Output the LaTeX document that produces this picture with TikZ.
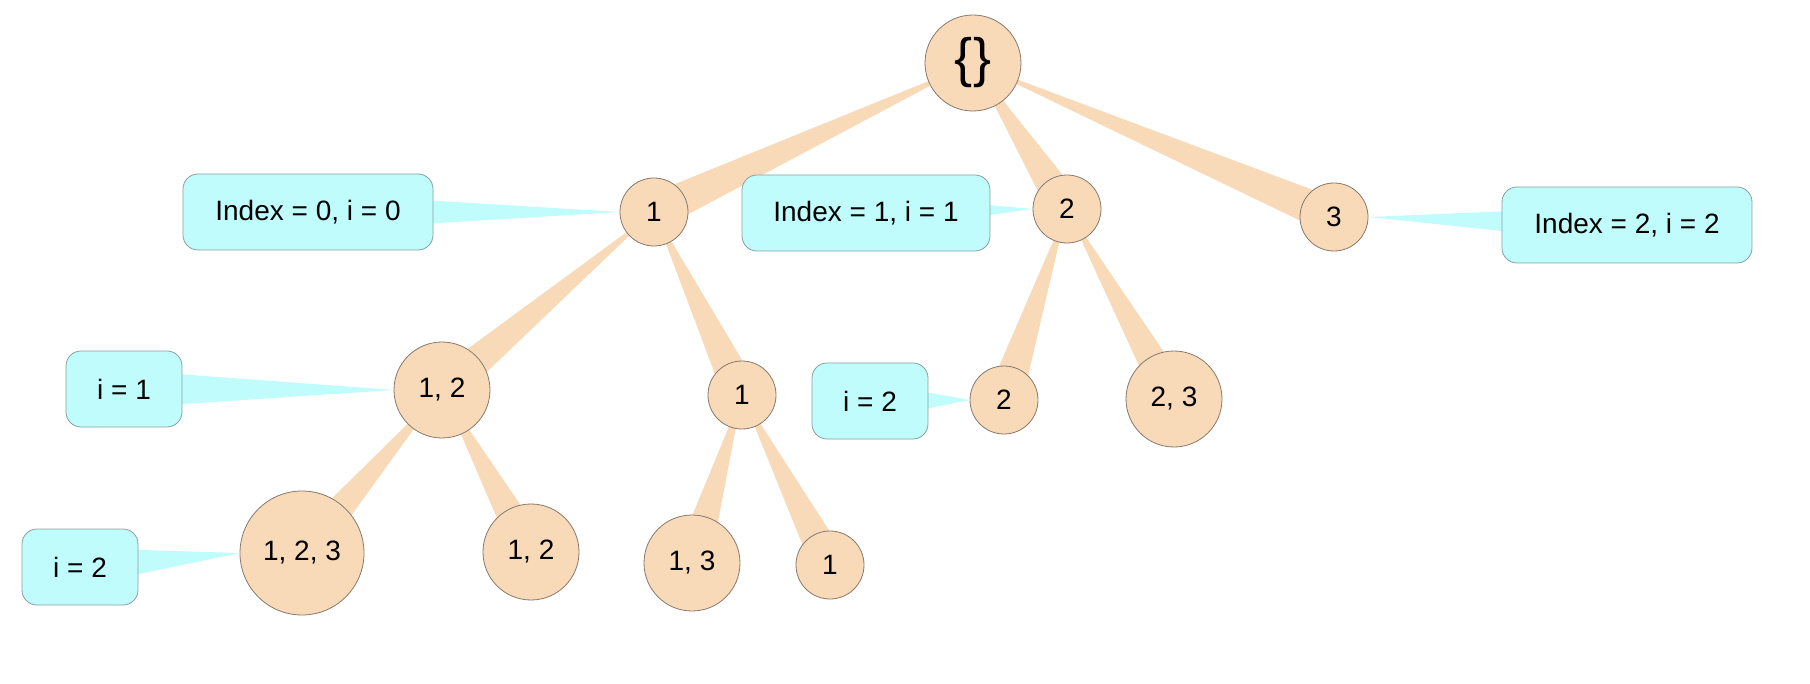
\documentclass[tikz,border=0pt]{standalone}
\usepackage{fontspec}
\setmainfont{Liberation Sans}
\usetikzlibrary{calc,backgrounds}

\definecolor{peach}{RGB}{248,218,185}
\definecolor{peachline}{RGB}{135,120,108}
\definecolor{lightcyan}{RGB}{192,252,252}
\definecolor{cyanline}{RGB}{135,160,160}

\tikzset{
	set/.style={circle, draw=peachline, fill=peach, line width=0.4pt, inner sep=0pt,
		font=\fontsize{14}{16}\selectfont},
	smallset/.style={set, minimum size=34pt},
	midset/.style={set, minimum size=48pt},
	bigset/.style={set, minimum size=62pt},
	tag/.style={rectangle, rounded corners=7.5pt, draw=cyanline, fill=lightcyan, line width=0.4pt,
		inner sep=0pt, minimum height=38pt, font=\fontsize{14}{16}\selectfont},
	branch/.style={fill=peach},
	pointer/.style={fill=lightcyan},
}

% tapered edge: sharp at the parent, wide at the child
\newcommand{\branchto}[2]{\fill[branch] (#1.center) -- ($(#2.center)!9pt!90:(#1.center)$) -- ($(#2.center)!9pt!-90:(#1.center)$) -- cycle;}
% callout: wide at the tag, sharp at the set
\newcommand{\pointto}[2]{\fill[pointer] (#2) -- ($(#1.center)!9.5pt!90:(#2)$) -- ($(#1.center)!9.5pt!-90:(#2)$) -- cycle;}

\begin{document}
\begin{tikzpicture}[x=0.5pt, y=-0.5pt]
	\useasboundingbox (0,0) rectangle (1810,684);

	\node [set, minimum size=48pt, font=\fontsize{27}{29}\selectfont] (root) at (973,63) {\{\}};

	\node [smallset] (s1)   at (654,212)  {1};
	\node [smallset] (s2)   at (1067,209) {2};
	\node [smallset] (s3)   at (1334,217) {3};

	\node [midset]   (s12)  at (442,390)  {1, 2};
	\node [smallset] (s1b)  at (742,395)  {1};
	\node [smallset] (s2b)  at (1004,400) {2};
	\node [midset]   (s23)  at (1174,399) {2, 3};

	\node [bigset]   (s123) at (302,553)  {1, 2, 3};
	\node [midset]   (s12b) at (531,552)  {1, 2};
	\node [midset]   (s13)  at (692,563)  {1, 3};
	\node [smallset] (s1c)  at (830,565)  {1};

	\node [tag, minimum width=125pt] (t0)  at (308,212)  {Index = 0, i = 0};
	\node [tag, minimum width=124pt] (t1)  at (866,213)  {Index = 1, i = 1};
	\node [tag, minimum width=125pt] (t2)  at (1627,225) {Index = 2, i = 2};
	\node [tag, minimum width=58pt]  (ti1) at (124,389)  {i = 1};
	\node [tag, minimum width=58pt]  (ti2) at (870,401)  {i = 2};
	\node [tag, minimum width=58pt]  (ti3) at (80,567)   {i = 2};

	\begin{scope}[on background layer]
		\branchto{root}{s1}
		\branchto{root}{s2}
		\branchto{root}{s3}
		\branchto{s1}{s12}
		\branchto{s1}{s1b}
		\branchto{s2}{s2b}
		\branchto{s2}{s23}
		\branchto{s12}{s123}
		\branchto{s12}{s12b}
		\branchto{s1b}{s13}
		\branchto{s1b}{s1c}

		\pointto{t0}{s1.west}
		\pointto{t1}{s2.west}
		\pointto{t2}{s3.east}
		\pointto{ti1}{s12.west}
		\pointto{ti2}{s2b.west}
		\pointto{ti3}{s123.west}
	\end{scope}
\end{tikzpicture}
\end{document}
